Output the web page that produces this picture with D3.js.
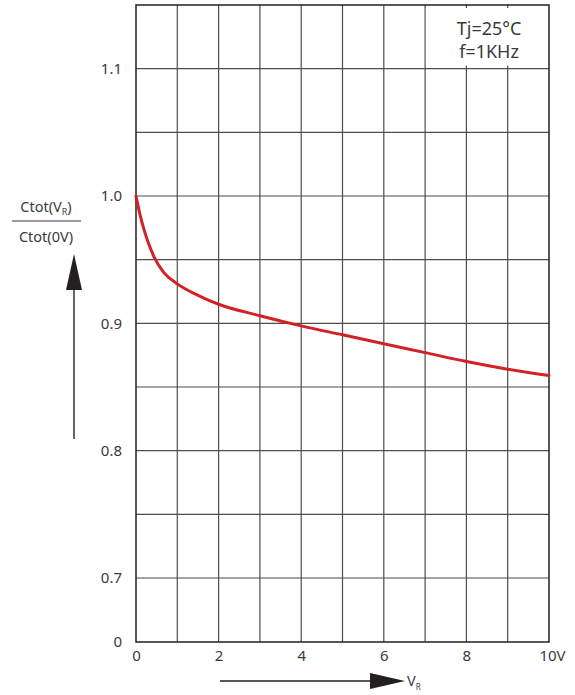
<!DOCTYPE html>
<html><head><meta charset="utf-8">
<script src="https://cdn.jsdelivr.net/npm/d3@7"></script>
<style>
html,body{margin:0;padding:0;background:#fff;}
svg{display:block;font-family:"Noto Sans","DejaVu Sans",sans-serif;}
</style></head>
<body>
<svg id="c" width="575" height="695"></svg>
<script>
// Data
const voltage = [0, 0.1, 0.2, 0.3, 0.44, 0.67, 1, 1.5, 2, 3, 4, 5, 6, 7, 8, 9, 10];
const ratio   = [1.0, 0.985, 0.973, 0.963, 0.952, 0.940, 0.931, 0.922, 0.915, 0.906, 0.898, 0.891, 0.884, 0.877, 0.870, 0.864, 0.859];
const xTickValues = [0, 2, 4, 6, 8, 10];
const xTickLabels = ["0", "2", "4", "6", "8", "10V"];
const xGridValues = [1, 2, 3, 4, 5, 6, 7, 8, 9];
const yTickValues = [0, 0.7, 0.8, 0.9, 1.0, 1.1];
const yTickLabels = ["0", "0.7", "0.8", "0.9", "1.0", "1.1"];
const yGridValues = [0.7, 0.75, 0.8, 0.85, 0.9, 0.95, 1.0, 1.05, 1.1];
const legendLines = ["Tj=25°C", "f=1KHz"];

const svg = d3.select("#c");
const L = 136, R = 549, T = 5, B = 642;
const x = d3.scaleLinear().domain([0, 10]).range([L, R]);
const y = d3.scaleLinear().domain([0, 0.7, 1.15]).range([B, 578, T]);
const ink = "#231f20", txt = "#3a3a3a", grid = "#4d4d4f";

// grid
const g = svg.append("g");
g.selectAll("line.v").data(xGridValues).enter().append("line")
  .attr("x1", d => x(d)).attr("x2", d => x(d)).attr("y1", T).attr("y2", B)
  .attr("stroke", grid).attr("stroke-width", 1.2);
g.selectAll("line.h").data(yGridValues).enter().append("line")
  .attr("y1", d => y(d)).attr("y2", d => y(d)).attr("x1", L).attr("x2", R)
  .attr("stroke", grid).attr("stroke-width", 1.2);

// legend box (white, covers grid)
svg.append("rect").attr("x", x(7) + 0.8).attr("y", T + 3)
  .attr("width", x(10) - x(7) - 1.6).attr("height", y(1.1) - T - 6).attr("fill", "#fff");
svg.append("g").selectAll("text").data(legendLines).enter().append("text")
  .attr("x", (x(7) + x(10)) / 2 + 2).attr("y", (d, i) => 35 + i * 23)
  .attr("text-anchor", "middle").attr("font-size", 18).attr("fill", txt)
  .text(d => d);

// border
svg.append("rect").attr("x", L).attr("y", T).attr("width", R - L).attr("height", B - T)
  .attr("fill", "none").attr("stroke", ink).attr("stroke-width", 1.5);

// axes labels
const yAxis = d3.axisLeft(y).tickValues(yTickValues).tickSize(0).tickPadding(14)
  .tickFormat((d, i) => yTickLabels[i]);
const ya = svg.append("g").attr("transform", `translate(${L},0)`).call(yAxis);
ya.select(".domain").remove();
ya.selectAll("text").attr("font-size", 15).attr("fill", txt)
  .attr("font-family", "'Noto Sans','DejaVu Sans',sans-serif");

const xAxis = d3.axisBottom(x).tickValues(xTickValues).tickSize(0).tickPadding(8)
  .tickFormat((d, i) => xTickLabels[i]);
const xa = svg.append("g").attr("transform", `translate(0,${B})`).call(xAxis);
xa.select(".domain").remove();
xa.selectAll("text").attr("font-size", 15).attr("fill", txt)
  .attr("font-family", "'Noto Sans','DejaVu Sans',sans-serif");
xa.selectAll(".tick").filter(d => d === 10).select("text").attr("dx", "0.2em");

// curve
const line = d3.line().x((d, i) => x(voltage[i])).y(d => y(d)).curve(d3.curveMonotoneX);
svg.append("path").datum(ratio).attr("d", line)
  .attr("fill", "none").attr("stroke", "#d42027").attr("stroke-width", 3)
  .attr("stroke-linecap", "round");

// y label (fraction)
const yl = svg.append("g").attr("fill", txt).attr("font-size", 14.5);
const t1 = yl.append("text").attr("x", 46).attr("y", 212).attr("text-anchor", "middle");
t1.append("tspan").text("Ctot(V");
t1.append("tspan").attr("font-size", 9).attr("dy", 3).text("R");
t1.append("tspan").attr("dy", -3).text(")");
yl.append("line").attr("x1", 12).attr("x2", 81).attr("y1", 221).attr("y2", 221)
  .attr("stroke", txt).attr("stroke-width", 1.2);
yl.append("text").attr("x", 46).attr("y", 242).attr("text-anchor", "middle").text("Ctot(0V)");

// y arrow
svg.append("line").attr("x1", 74).attr("x2", 74).attr("y1", 439).attr("y2", 288)
  .attr("stroke", "#333").attr("stroke-width", 1.5);
svg.append("path").attr("d", "M74,254 L82,290 L66,290 Z").attr("fill", ink);

// x arrow
svg.append("line").attr("x1", 220).attr("x2", 372).attr("y1", 681).attr("y2", 681)
  .attr("stroke", ink).attr("stroke-width", 1.5);
svg.append("path").attr("d", "M405,681 L370,673 L370,689 Z").attr("fill", ink);
const xl = svg.append("text").attr("x", 407).attr("y", 686).attr("fill", txt).attr("font-size", 14.5);
xl.append("tspan").text("V");
xl.append("tspan").attr("font-size", 8).attr("dy", 4).text("R");
</script>
</body></html>
